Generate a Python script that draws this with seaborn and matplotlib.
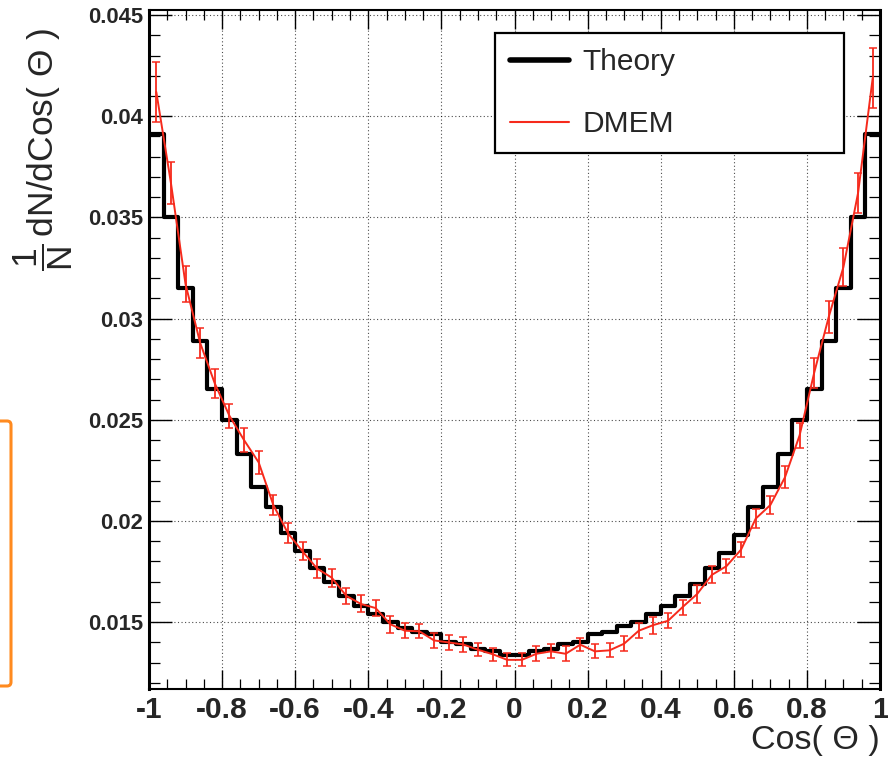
import numpy as np
import pandas as pd
import seaborn as sns
import matplotlib
matplotlib.use("Agg")
import matplotlib.pyplot as plt
from matplotlib.lines import Line2D
from matplotlib.patches import FancyBboxPatch
from matplotlib.ticker import MultipleLocator, FixedLocator, FixedFormatter
from matplotlib.transforms import IdentityTransform

# ---------------- data ----------------
n_bins = 50
bin_edges = np.linspace(-1.0, 1.0, n_bins + 1)
cos_centers = 0.5 * (bin_edges[:-1] + bin_edges[1:])

theory = [0.0391, 0.0350, 0.0315, 0.0289, 0.0265, 0.0250, 0.0233, 0.0217, 0.0207, 0.0194,
          0.0185, 0.0177, 0.0170, 0.0163, 0.0158, 0.0154, 0.0150, 0.0147, 0.0145, 0.0144,
          0.0140, 0.0139, 0.0137, 0.0136, 0.0134, 0.0134, 0.0136, 0.0137, 0.0139, 0.0140,
          0.0144, 0.0145, 0.0148, 0.0150, 0.0154, 0.0158, 0.0163, 0.0169, 0.0177, 0.0184,
          0.0193, 0.0207, 0.0217, 0.0233, 0.0250, 0.0265, 0.0289, 0.0315, 0.0350, 0.0391]

dmem = [0.0412, 0.0367, 0.0317, 0.0288, 0.0268, 0.0252, 0.0240, 0.0229, 0.0208, 0.0194,
        0.0185, 0.01765, 0.0172, 0.0163, 0.0159, 0.0157, 0.0149, 0.01458, 0.01455, 0.0141,
        0.0140, 0.0139, 0.01364, 0.01342, 0.01314, 0.01314, 0.01344, 0.01356, 0.01344, 0.01389,
        0.01356, 0.01361, 0.01394, 0.01458, 0.01486, 0.01507, 0.01575, 0.0164, 0.01734, 0.01777,
        0.01859, 0.02012, 0.02079, 0.02216, 0.02423, 0.02733, 0.0301, 0.03255, 0.03621, 0.04188]

dmem_err = [0.00149, 0.00104, 0.00089, 0.00074, 0.00072, 0.00059, 0.00059, 0.00057, 0.00050, 0.00050,
            0.00045, 0.00047, 0.00045, 0.00040, 0.00042, 0.00040, 0.00042, 0.00037, 0.00035, 0.00035,
            0.00037, 0.00037, 0.00032, 0.00032, 0.00032, 0.00032, 0.00037, 0.00035, 0.00037, 0.00032,
            0.00035, 0.00035, 0.00037, 0.00037, 0.00042, 0.00037, 0.00037, 0.00045, 0.00042, 0.00035,
            0.00035, 0.00047, 0.00045, 0.00054, 0.00062, 0.00074, 0.00079, 0.00092, 0.00101, 0.00149]

x_ticks = [-1, -0.8, -0.6, -0.4, -0.2, 0, 0.2, 0.4, 0.6, 0.8, 1]
x_tick_labels = ["-1", "-0.8", "-0.6", "-0.4", "-0.2", "0", "0.2", "0.4", "0.6", "0.8", "1"]
y_ticks = [0.015, 0.02, 0.025, 0.03, 0.035, 0.04, 0.045]
y_tick_labels = ["0.015", "0.02", "0.025", "0.03", "0.035", "0.04", "0.045"]

df = pd.DataFrame({"cos": cos_centers, "theory": theory, "dmem": dmem, "err": dmem_err})

# ---------------- style ----------------
sns.set_theme(style="white")
plt.rcParams["font.family"] = ["Liberation Sans", "DejaVu Sans"]
plt.rcParams["mathtext.fontset"] = "custom"
plt.rcParams["mathtext.rm"] = "Liberation Sans"
plt.rcParams["mathtext.it"] = "Liberation Sans:italic"
plt.rcParams["mathtext.bf"] = "Liberation Sans:bold"

RED = "#f62a1c"

fig = plt.figure(figsize=(8.88, 7.6), dpi=100)
fig.patch.set_facecolor("white")
ax = fig.add_axes([149 / 888, 71 / 760, 731 / 888, 679 / 760])

# Theory histogram (step outline)
sns.histplot(data=df, x="cos", weights="theory", bins=n_bins, binrange=(-1, 1),
             element="step", fill=False, color="black", linewidth=3.0, ax=ax, zorder=3)

# DMEM curve with error bars
sns.lineplot(data=df, x="cos", y="dmem", color=RED, linewidth=1.4, ax=ax, zorder=4)
ax.errorbar(df["cos"], df["dmem"], yerr=df["err"], fmt="none", ecolor=RED,
            elinewidth=1.3, capsize=2.6, capthick=1.1, zorder=4)

ax.set_xlim(-1, 1)
ax.set_ylim(0.0117, 0.04525)

# ticks
ax.xaxis.set_major_locator(FixedLocator(x_ticks))
ax.xaxis.set_major_formatter(FixedFormatter(x_tick_labels))
ax.yaxis.set_major_locator(FixedLocator(y_ticks))
ax.yaxis.set_major_formatter(FixedFormatter(y_tick_labels))
ax.xaxis.set_minor_locator(MultipleLocator(0.05))
ax.yaxis.set_minor_locator(MultipleLocator(0.001))
ax.tick_params(axis="x", which="major", direction="in", length=13.5, width=1.0,
               top=True, bottom=True, color="black", pad=5, labelsize=21.5)
ax.tick_params(axis="x", which="minor", direction="in", length=7, width=0.9,
               top=True, bottom=True, color="black")
ax.tick_params(axis="y", which="major", direction="in", length=16.5, width=1.0,
               left=True, right=True, color="black", pad=4, labelsize=15.8)
ax.tick_params(axis="y", which="minor", direction="in", length=8, width=0.9,
               left=True, right=True, color="black")
for lab in ax.get_xticklabels() + ax.get_yticklabels():
    lab.set_fontweight("bold")

# grid
ax.set_axisbelow(True)
ax.grid(True, which="major", linestyle=(0, (1, 2.2)), color="black", linewidth=0.8, alpha=0.7)

for side, sp in ax.spines.items():
    sp.set_color("black")
    sp.set_linewidth(2.2 if side in ("left", "right") else 1.5)
    sp.set_visible(True)

# labels
ax.set_xlabel("Cos( Θ )", fontsize=24.5, loc="right", labelpad=1)
ax.set_ylabel(r"$\dfrac{1}{\mathrm{N}}\,$dN/dCos( Θ )", fontsize=25.5, loc="top")
ax.yaxis.set_label_coords(-0.101, 0.9735)

# legend
handles = [Line2D([], [], color="black", linewidth=4.0),
           Line2D([], [], color=RED, linewidth=1.5)]
leg = ax.legend(handles, ["Theory", "DMEM"], loc="upper left",
                bbox_to_anchor=(0.473, 0.966 - 0.1825, 0.478, 0.1825), mode="expand",
                borderaxespad=0, fontsize=21.5, labelspacing=1.15, borderpad=0.5,
                handlelength=2.0, handletextpad=0.45, frameon=True, fancybox=False,
                framealpha=1, edgecolor="black")
leg.get_frame().set_linewidth(1.6)
leg.set_zorder(6)

# orange frame fragment at the left edge
orange = FancyBboxPatch((-20, 74), 31, 265, boxstyle="round,pad=0,rounding_size=4",
                        linewidth=2.2, edgecolor="#ff8a1f", facecolor="none",
                        transform=IdentityTransform())
fig.add_artist(orange)

fig.savefig("out.png", dpi=100)
